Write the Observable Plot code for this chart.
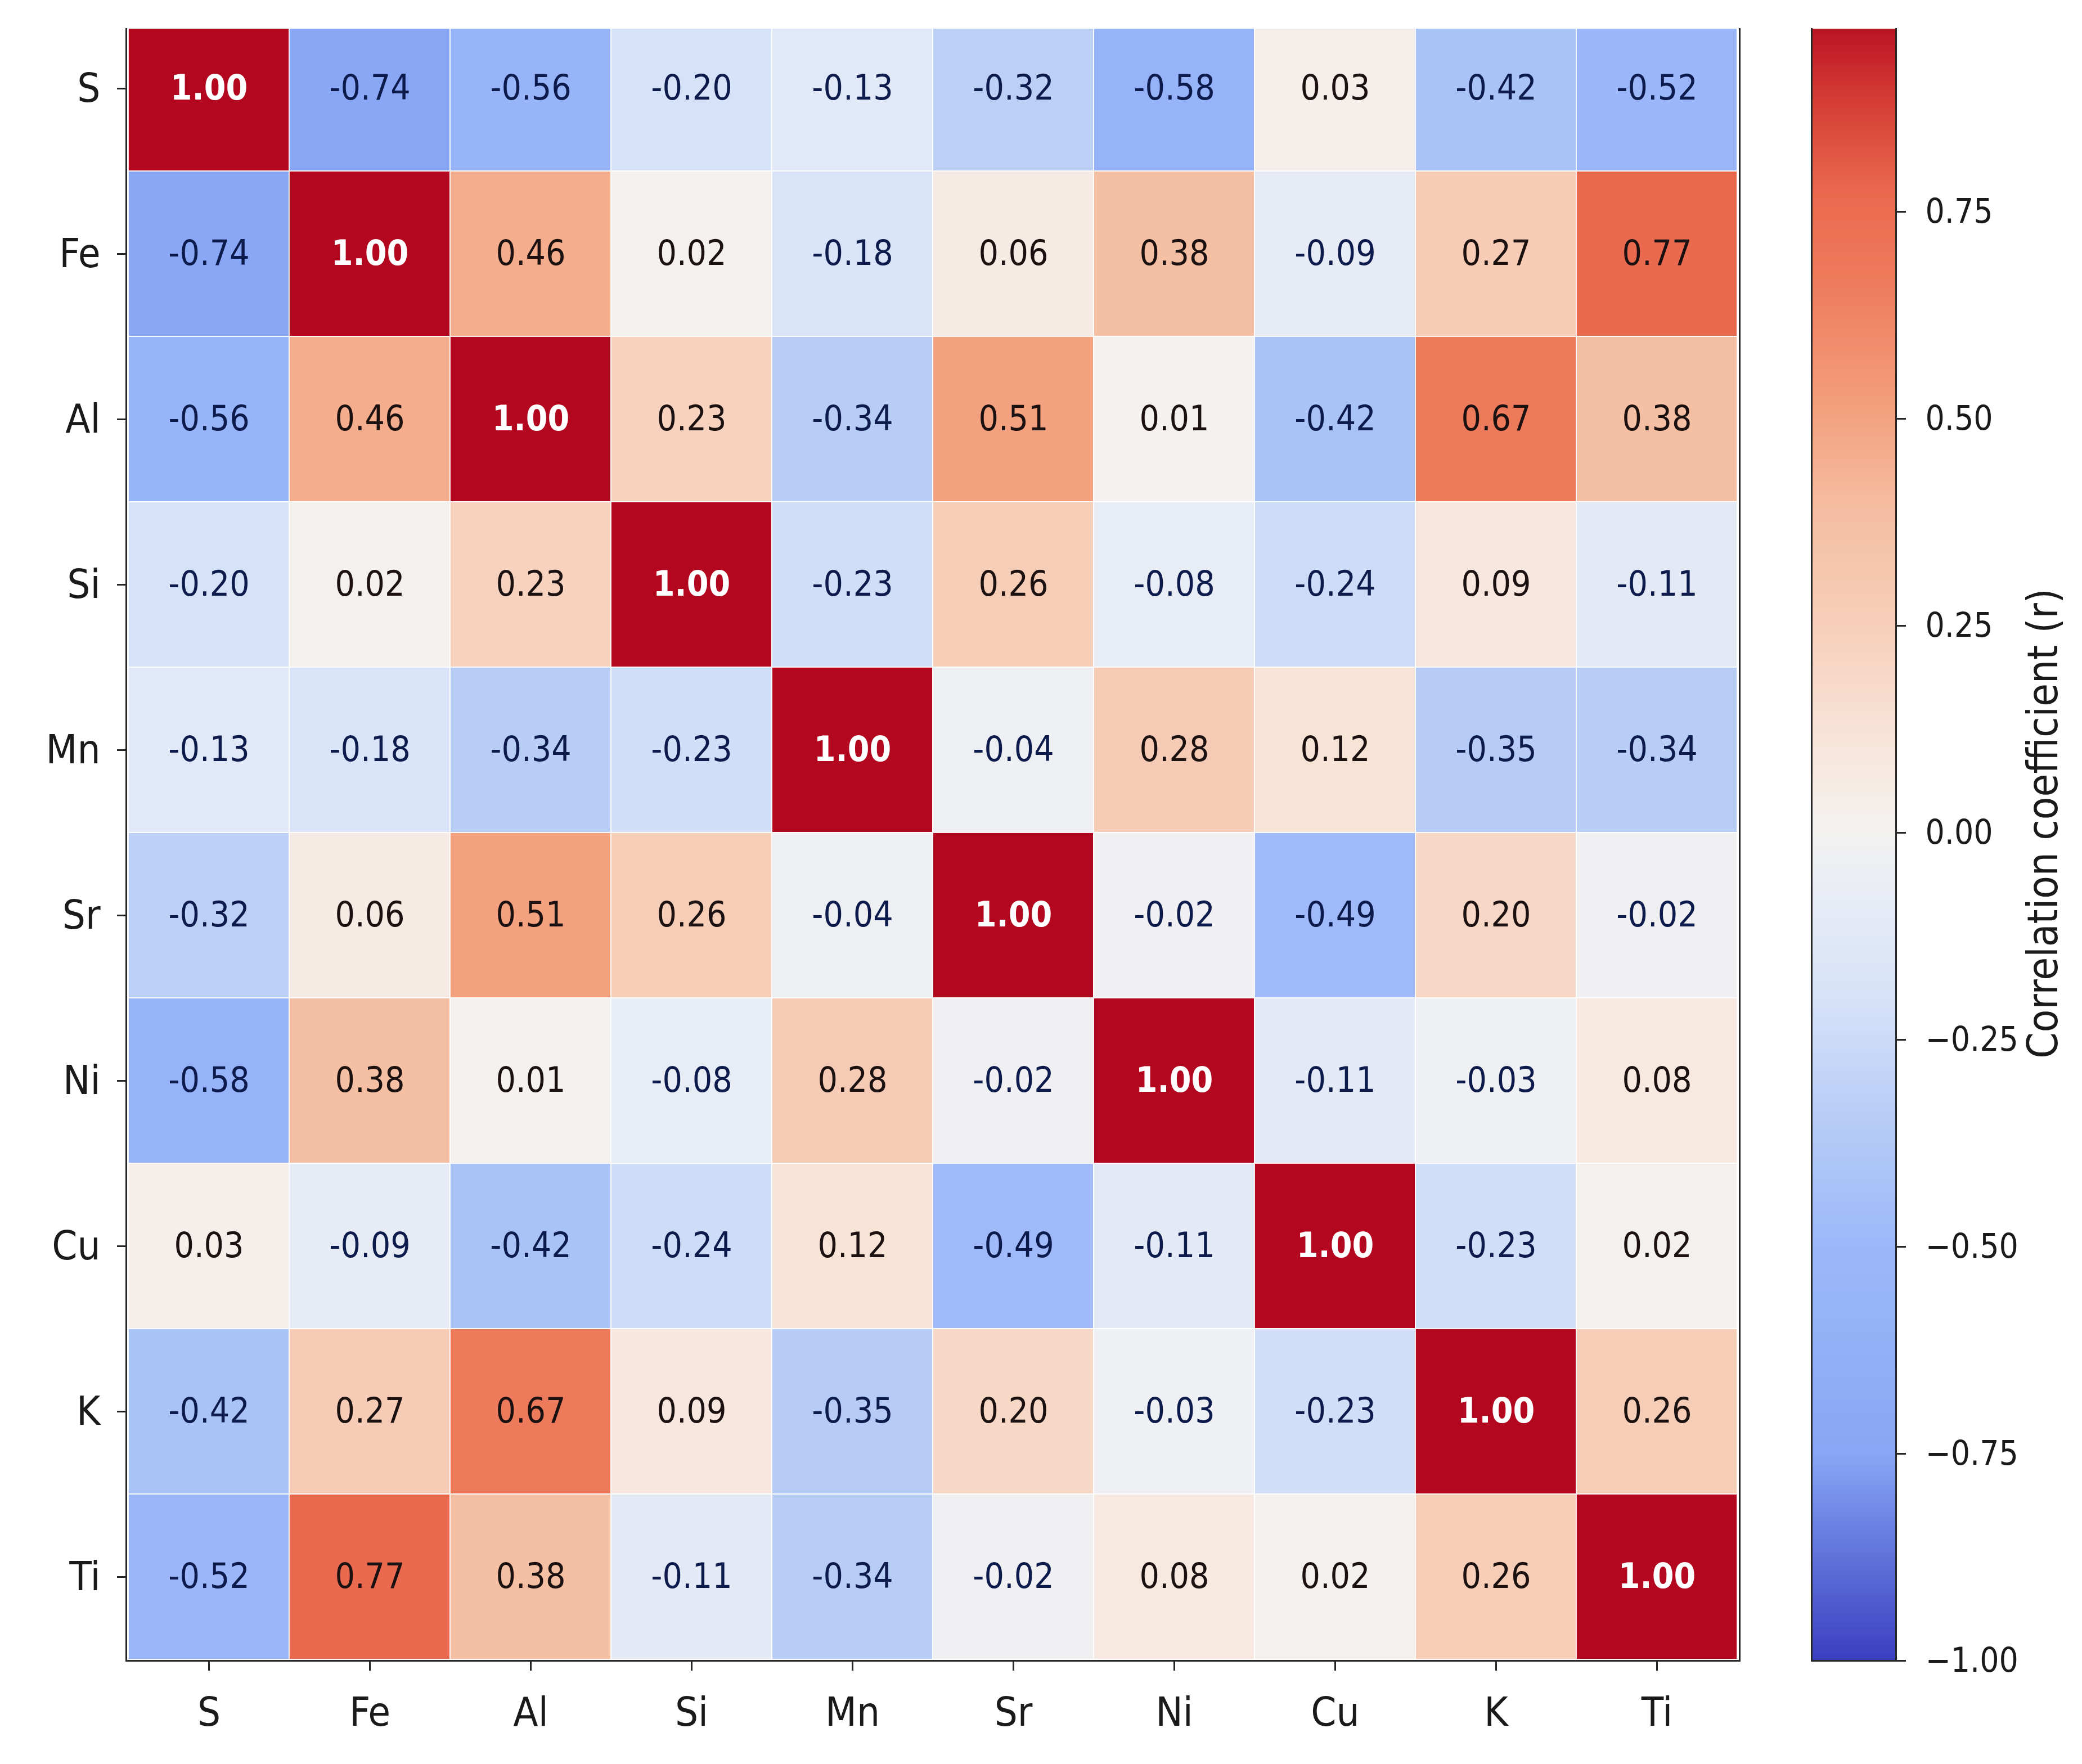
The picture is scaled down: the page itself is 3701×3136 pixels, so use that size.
<!DOCTYPE html>
<html>
<head>
<meta charset="utf-8">
<script src="https://cdn.jsdelivr.net/npm/d3@7"></script>
<script src="https://cdn.jsdelivr.net/npm/@observablehq/plot@0.6"></script>
<style>
  html, body { margin: 0; padding: 0; background: #ffffff; }
  #chart { position: relative; width: 3701px; height: 3136px; background: #ffffff; overflow: hidden; }
  #chart svg { position: absolute; top: 0; max-width: none; }
</style>
</head>
<body>
<div id="chart"></div>
<script>
// ---- data ----
const elements = ["S", "Fe", "Al", "Si", "Mn", "Sr", "Ni", "Cu", "K", "Ti"];
const corrS  = [ 1.00, -0.74, -0.56, -0.20, -0.13, -0.32, -0.58,  0.03, -0.42, -0.52];
const corrFe = [-0.74,  1.00,  0.46,  0.02, -0.18,  0.06,  0.38, -0.09,  0.27,  0.77];
const corrAl = [-0.56,  0.46,  1.00,  0.23, -0.34,  0.51,  0.01, -0.42,  0.67,  0.38];
const corrSi = [-0.20,  0.02,  0.23,  1.00, -0.23,  0.26, -0.08, -0.24,  0.09, -0.11];
const corrMn = [-0.13, -0.18, -0.34, -0.23,  1.00, -0.04,  0.28,  0.12, -0.35, -0.34];
const corrSr = [-0.32,  0.06,  0.51,  0.26, -0.04,  1.00, -0.02, -0.49,  0.20, -0.02];
const corrNi = [-0.58,  0.38,  0.01, -0.08,  0.28, -0.02,  1.00, -0.11, -0.03,  0.08];
const corrCu = [ 0.03, -0.09, -0.42, -0.24,  0.12, -0.49, -0.11,  1.00, -0.23,  0.02];
const corrK  = [-0.42,  0.27,  0.67,  0.09, -0.35,  0.20, -0.03, -0.23,  1.00,  0.26];
const corrTi = [-0.52,  0.77,  0.38, -0.11, -0.34, -0.02,  0.08,  0.02,  0.26,  1.00];
const colorbarTicks = [-1.00, -0.75, -0.50, -0.25, 0.00, 0.25, 0.50, 0.75];
const colorbarLabel = "Correlation coefficient (r)";

// ---- table built from the arrays ----
const rows = [corrS, corrFe, corrAl, corrSi, corrMn, corrSr, corrNi, corrCu, corrK, corrTi];
const cells = [];
rows.forEach((vals, i) => vals.forEach((v, j) => cells.push({row: elements[i], col: elements[j], value: v})));

// ---- style ----
const FONT = "'DejaVu Sans Condensed', Roboto, 'DejaVu Sans', sans-serif";
const colorOpts = {
  type: "linear",
  domain: [-1, -0.75, -0.5, -0.35, -0.2, -0.1, 0, 0.1, 0.25, 0.4, 0.5, 0.67, 0.77, 0.88, 1],
  range: ["#3a3fc0", "#88a6f5", "#9db8f9", "#b6ccf6", "#d6e2f8", "#e5eaf6", "#f3f2f1",
          "#f8e6dc", "#f6cfba", "#f5bc9f", "#f3a381", "#ee7a5c", "#ea6a50", "#d63f36", "#b2071f"]
};
const EDGE = "#262626";

const heat = Plot.plot({
  width: 3160,
  height: 3136,
  marginLeft: 224,
  marginRight: 68,
  marginTop: 51,
  marginBottom: 184,
  style: {fontFamily: FONT, background: "transparent", color: "#1a1a1a"},
  x: {domain: elements, padding: 0, axis: null, label: null},
  y: {domain: elements, padding: 0, range: [8, 2952], axis: null, label: null},
  color: colorOpts,
  marks: [
    Plot.cell(cells, {x: "col", y: "row", fill: "value", stroke: "#ffffff", strokeWidth: 2, strokeOpacity: 0.85, clip: true}),
    Plot.text(cells.filter(d => d.value >= 0.995), {x: "col", y: "row", text: d => d.value.toFixed(2), fill: "#ffffff", fontWeight: "bold", fontSize: 62, clip: true}),
    Plot.text(cells.filter(d => d.value < 0), {x: "col", y: "row", text: d => d.value.toFixed(2), fill: "#0d1b4c", fontSize: 62, clip: true}),
    Plot.text(cells.filter(d => d.value >= 0 && d.value < 0.995), {x: "col", y: "row", text: d => d.value.toFixed(2), fill: "#1c1111", fontSize: 62, clip: true}),
    Plot.frame({anchor: "left", stroke: EDGE, strokeWidth: 3}),
    Plot.frame({anchor: "bottom", stroke: EDGE, strokeWidth: 3}),
    Plot.frame({anchor: "right", stroke: EDGE, strokeWidth: 3}),
    Plot.axisY({anchor: "left", label: null, tickSize: 16, tickPadding: 30, fontSize: 72, strokeWidth: 3, stroke: EDGE}),
    Plot.axisX({anchor: "bottom", label: null, tickSize: 18, tickPadding: 46, fontSize: 72, strokeWidth: 3, stroke: EDGE})
  ]
});
heat.style.left = "0px";

const cbar = Plot.plot({
  width: 601,
  height: 3136,
  marginLeft: 120,
  marginRight: 331,
  marginTop: 51,
  marginBottom: 184,
  style: {fontFamily: FONT, background: "transparent", color: "#1a1a1a"},
  x: {domain: [0, 1], axis: null, label: null},
  y: {domain: [-1, 1], range: [2952, 8], axis: null, label: null},
  color: colorOpts,
  marks: [
    Plot.raster({x1: 0, x2: 1, y1: -1, y2: 1, width: 1, height: 1200, fill: (x, y) => y, clip: true, imageRendering: "auto"}),
    Plot.frame({anchor: "left", stroke: EDGE, strokeWidth: 3}),
    Plot.frame({anchor: "right", stroke: EDGE, strokeWidth: 3}),
    Plot.frame({anchor: "bottom", stroke: EDGE, strokeWidth: 3}),
    Plot.axisY(colorbarTicks, {anchor: "right", label: null, tickSize: 17, tickPadding: 35, tickFormat: d3.format(".2f"), fontSize: 60, strokeWidth: 3, stroke: EDGE}),
    Plot.text([colorbarLabel], {text: d => d, frameAnchor: "right", textAnchor: "middle", lineAnchor: "middle", dx: 263, dy: -38, rotate: -90, fontSize: 74, fill: "#1a1a1a"})
  ]
});
cbar.style.left = "3100px";

const chart = document.getElementById("chart");
chart.appendChild(heat);
chart.appendChild(cbar);
</script>
</body>
</html>
